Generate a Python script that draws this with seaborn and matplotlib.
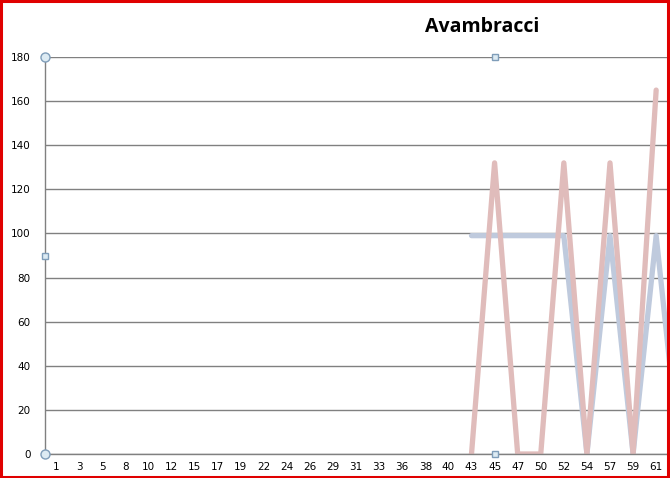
import numpy as np
import pandas as pd
import seaborn as sns
import matplotlib.pyplot as plt

# category labels (the last one sits just past the cropped right edge)
days = ["1", "3", "5", "8", "10", "12", "15", "17", "19", "22", "24", "26", "29", "31",
        "33", "36", "38", "40", "43", "45", "47", "50", "52", "54", "57", "59", "61", "64"]
nan = np.nan
pink_vals = [nan] * 18 + [0, 132, 0, 0, 132, 0, 132, 0, 165, nan]
blue_vals = [nan] * 18 + [99, 99, 99, 99, 99, 0, 99, 0, 99, 0]

df = pd.DataFrame({"pos": np.arange(len(days)), "pink": pink_vals, "blue": blue_vals})

sns.set_style("white")
plt.rcParams["font.family"] = ["DejaVu Sans"]

W, H = 670, 478
fig = plt.figure(figsize=(W / 100, H / 100), dpi=100)
x0, x1, ytop, ybot = 44.5, 667.7, 57, 454
ax = fig.add_axes([x0 / W, 1 - ybot / H, (x1 - x0) / W, (ybot - ytop) / H])

sns.lineplot(x="pos", y="blue", data=df, ax=ax, color="#BFCADD", linewidth=3.8)
sns.lineplot(x="pos", y="pink", data=df, ax=ax, color="#E0BCBB", linewidth=3.8)

ax.set_xlim(-0.5, 26.5)
ax.set_ylim(0, 180)
ax.set_yticks(range(0, 181, 20))
ax.set_xticks(df["pos"][:27])
ax.set_xticklabels(days[:27])
ax.tick_params(axis="both", length=0, labelsize=7.5, colors="black")
ax.tick_params(axis="y", pad=10)
ax.tick_params(axis="x", pad=6)
ax.grid(axis="y", color="#808080", linewidth=1)
ax.set_axisbelow(True)
for side in ["top", "right"]:
    ax.spines[side].set_visible(False)
for side in ["left", "bottom"]:
    ax.spines[side].set_color("#808080")
    ax.spines[side].set_linewidth(1)
ax.set_xlabel("")
ax.set_ylabel("")

# plot-area selection handles
hx = (494.6 - x0) / (x1 - x0)
for px, py, mk, ms in [(0, 1, "o", 6.5), (0, 0, "o", 6.5), (hx, 1, "s", 5), (0, 0.5, "s", 5), (hx, 0, "s", 5)]:
    ax.plot(px, py, marker=mk, markersize=ms, markerfacecolor="#DDEBF3",
            markeredgecolor="#7F9DB9", markeredgewidth=1, transform=ax.transAxes,
            clip_on=False, zorder=5)

fig.text(482 / W, 1 - 27 / H, "Avambracci", ha="center", va="center", color="black",
         fontsize=14, fontweight="bold", family="Open Sans")

# red frame of the screenshot
fig.patches.append(plt.Rectangle((0.0015, 0.002), 0.9955, 0.995, transform=fig.transFigure,
                                 fill=False, edgecolor="#E00000", linewidth=2.2))

plt.savefig("out.png", dpi=100)
